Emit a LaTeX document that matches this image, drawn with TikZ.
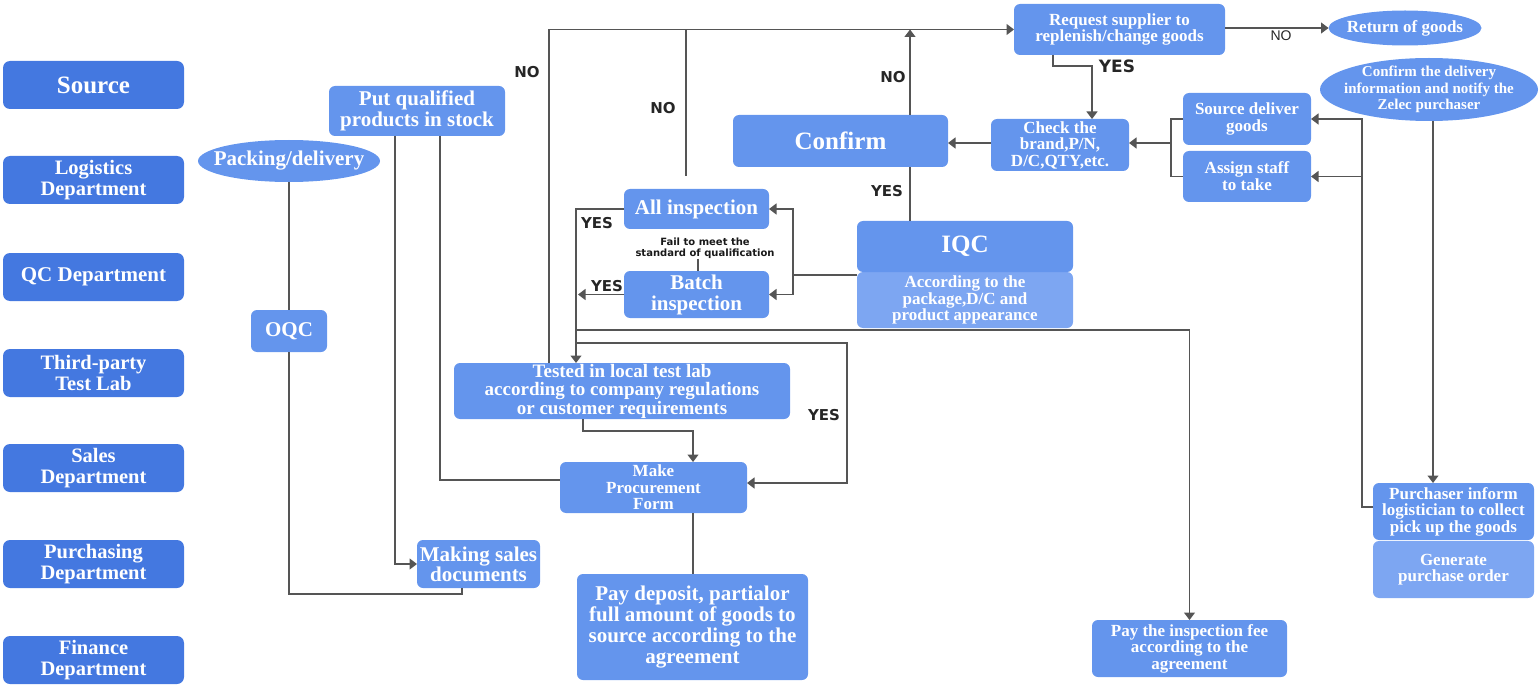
\documentclass[tikz,border=0pt]{standalone}
\usepackage{fontspec}
\setmainfont{Liberation Serif}
\newfontfamily\lblfont{DejaVu Sans}
\newfontfamily\nofont{Liberation Sans}
\usetikzlibrary{shapes.geometric,arrows.meta}
\definecolor{deptblue}{RGB}{68,120,224}
\definecolor{midblue}{RGB}{100,149,237}
\definecolor{lightblue}{RGB}{125,166,242}
\definecolor{linegray}{RGB}{85,85,85}
\newcommand{\fsz}[2]{\fontsize{#1}{#2}\selectfont}
\begin{document}
\begin{tikzpicture}[x=1pt,y=-1pt,
  basenode/.style={inner sep=0pt, outer sep=0pt, align=center, text=white, font=\bfseries},
  deptbox/.style={basenode, rectangle, rounded corners=7pt, fill=deptblue, minimum width=181pt, minimum height=48pt, font=\bfseries\fsz{20.5}{21}},
  stepbox/.style={basenode, rectangle, rounded corners=6pt, fill=midblue},
  lightbox/.style={basenode, rectangle, rounded corners=6pt, fill=lightblue},
  ovalnode/.style={inner sep=0pt, outer sep=0pt, ellipse, fill=midblue},
  ovaltext/.style={inner sep=0pt, align=center, text=white},
  conn/.style={draw=linegray, line width=1.2pt},
  arrowline/.style={conn, -{Triangle[length=7.5pt,width=11pt]}},
  lbl/.style={inner sep=0pt, text=black!85, font=\lblfont\bfseries\fsz{15}{15}},
]
\useasboundingbox (0,0) rectangle (1539,687);

% departments
\node[deptbox, font=\bfseries\fsz{25}{25}] (src) at (93.5,85) {Source};
\node[deptbox] (logi) at (93.5,180) {Logistics\\Department};
\node[deptbox, font=\bfseries\fsz{21}{21}] (qc) at (93.5,277) {QC Department};
\node[deptbox] (lab) at (93.5,373) {Third-party\\Test Lab};
\node[deptbox] (sales) at (93.5,468) {Sales\\Department};
\node[deptbox] (purch) at (93.5,564) {Purchasing\\Department};
\node[deptbox] (fin) at (93.5,660) {Finance\\Department};

% process nodes
\node[stepbox, minimum width=176pt, minimum height=50pt, font=\bfseries\fsz{21}{21}] (pq) at (417,111) {Put qualified\\products in stock};
\node[ovalnode, minimum width=182pt, minimum height=42pt] (pack) at (289,161) {};
\node[ovaltext, font=\bfseries\fsz{21}{21}] (packtxt) at (pack.center) {Packing/delivery};
\node[stepbox, minimum width=76pt, minimum height=42pt, font=\bfseries\fsz{21}{21}] (oqc) at (289,331) {OQC};

\node[stepbox, minimum width=211pt, minimum height=51pt, font=\bfseries\fsz{17}{16.5}] (req) at (1119.5,29.5) {Request supplier to\\replenish/change goods};
\node[ovalnode, minimum width=153pt, minimum height=35pt] (ret) at (1405,28) {};
\node[ovaltext, font=\bfseries\fsz{17}{17}] (rettxt) at (ret.center) {Return of goods};
\node[ovalnode, minimum width=218pt, minimum height=63pt] (cdel) at (1429,89.5) {};
\node[ovaltext, font=\bfseries\fsz{15}{16.5}] (cdeltxt) at (cdel.center) {Confirm the delivery\\information and notify the\\Zelec purchaser};
\node[stepbox, minimum width=128pt, minimum height=52pt, font=\bfseries\fsz{17}{17}] (sdel) at (1247,119) {Source deliver\\goods};
\node[stepbox, minimum width=128pt, minimum height=51pt, font=\bfseries\fsz{17}{17}] (asg) at (1247,176.5) {Assign staff\\to take};
\node[stepbox, minimum width=138pt, minimum height=52pt, font=\bfseries\fsz{17}{16.5}] (chk) at (1060,145) {Check the\\brand,P/N,\\D/C,QTY,etc.};
\node[stepbox, minimum width=215pt, minimum height=52pt, font=\bfseries\fsz{25}{25}] (conf) at (840.5,141) {Confirm};
\node[lightbox, minimum width=216pt, minimum height=56pt, font=\bfseries\fsz{17}{16.5}] (acc) at (965,300) {According to the\\package,D/C and\\product appearance};
\node[stepbox, minimum width=216pt, minimum height=51pt, font=\bfseries\fsz{25}{25}] (iqc) at (965,246.5) {IQC};
\node[stepbox, minimum width=145pt, minimum height=40pt, font=\bfseries\fsz{21}{21}] (allin) at (696.5,209) {All inspection};
\node[stepbox, minimum width=145pt, minimum height=47pt, font=\bfseries\fsz{21}{21}] (bat) at (696.5,294.5) {Batch\\inspection};
\node[inner sep=0pt, align=center, text=black!90, font=\lblfont\bfseries\fsz{10}{11}] (fail) at (705,248) {Fail to meet the\\standard of qualification};
\node[stepbox, minimum width=336pt, minimum height=56pt, font=\bfseries\fsz{19}{18.5}] (test) at (622,391) {Tested in local test lab\\according to company regulations\\or customer requirements};
\node[stepbox, minimum width=187pt, minimum height=51pt, font=\bfseries\fsz{17}{16.5}] (mpf) at (653.5,487.5) {Make\\Procurement\\Form};
\node[stepbox, minimum width=231pt, minimum height=106pt, font=\bfseries\fsz{21}{21}] (payd) at (692.5,627) {Pay deposit, partialor\\full amount of goods to\\source according to the\\agreement};
\node[stepbox, minimum width=123pt, minimum height=48pt, font=\bfseries\fsz{21}{20}] (msd) at (478.5,564) {Making sales\\documents};
\node[stepbox, minimum width=195pt, minimum height=57pt, font=\bfseries\fsz{17}{16.5}] (payf) at (1189.5,648.5) {Pay the inspection fee\\according to the\\agreement};
\node[stepbox, minimum width=161pt, minimum height=57pt, font=\bfseries\fsz{17}{16.5}] (pinf) at (1453.5,511.5) {Purchaser inform\\logistician to collect\\pick up the goods};
\node[lightbox, minimum width=161pt, minimum height=57pt, font=\bfseries\fsz{17}{16.5}] (gen) at (1453.5,569.5) {Generate\\purchase order};

% junction coordinates
\coordinate (allup) at (686,176);
\coordinate (bx) at (1171,143);
\coordinate (ix) at (793,275);
\coordinate (j1) at (576,330);
\coordinate (j2) at (576,343);

% connectors
\draw[conn] (pack.south) -- (oqc.north);
\draw[conn] (oqc.south) |- (462,594) -- (msd.south -| 462,0);
\draw[arrowline] (pq.south -| 395,0) |- (msd.west);
\draw[conn] (pq.south -| 440,0) |- (mpf.west |- 0,480);
\draw[arrowline] (test.north -| 549,0) |- (req.west);
\draw[conn] (allup) -- (allup |- req.west);
\draw[arrowline] (conf.north -| 910,0) -- (req.west -| 910,0);
\draw[conn] (iqc.north -| 910,0) -- (conf.south -| 910,0);
\draw[arrowline] (chk.west |- 0,143) -- (conf.east |- 0,143);
\draw[arrowline] (req.south -| 1053,0) |- (1092,66) -- (chk.north -| 1092,0);
\draw[arrowline] (req.east |- ret.west) -- (ret.west);
\draw[conn] (sdel.west) -| (bx) |- (asg.west);
\draw[arrowline] (bx) -- (chk.east |- bx);
\draw[arrowline] (pinf.west |- 0,507) -| (sdel.east -| 1362,0) -- (sdel.east);
\draw[arrowline] (asg.east -| 1362,0) -- (asg.east);
\draw[arrowline] (cdel.south -| 1433,0) -- (pinf.north -| 1433,0);
\draw[conn] (iqc.west |- ix) -- (ix);
\draw[arrowline] (ix) |- (allin.east);
\draw[arrowline] (ix) |- (bat.east);
\draw[arrowline] (allin.west) -| (test.north -| 576,0);
\draw[arrowline] (bat.west) -- (bat.west -| 578,0);
\draw[conn] (fail.south -| 698,0) -- (bat.north -| 698,0);
\draw[arrowline] (j1) -| (payf.north);
\draw[arrowline] (j2) -| (847,483) -- (mpf.east |- 0,483);
\draw[arrowline] (test.south -| 583,0) |- (693,431) -- (mpf.north -| 693,0);
\draw[conn] (mpf.south -| 693,0) -- (payd.north -| 693,0);

% labels
\node[lbl] (no1) at (527,72) {NO};
\node[lbl] (no2) at (663,108) {NO};
\node[lbl] (no3) at (893,77) {NO};
\node[lbl] (yes1) at (887,191) {YES};
\node[lbl] (yes2) at (597,223) {YES};
\node[lbl] (yes3) at (607,286) {YES};
\node[lbl] (yes4) at (824,415) {YES};
\node[lbl, font=\lblfont\bfseries\fsz{17}{17}] (yes5) at (1117,66) {YES};
\node[lbl, font=\nofont\fsz{14}{14}] (no4) at (1281,36) {NO};
\end{tikzpicture}
\end{document}
